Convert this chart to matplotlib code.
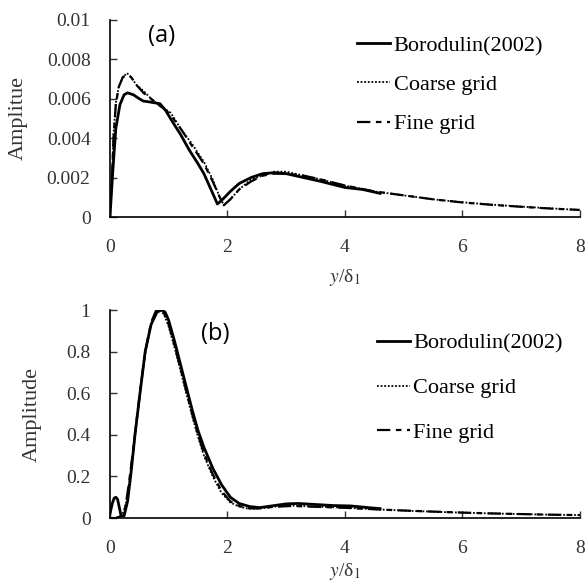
import matplotlib
matplotlib.use('Agg')
import matplotlib.pyplot as plt

plt.rcParams['font.family'] = ['Liberation Serif', 'DejaVu Serif']
plt.rcParams['mathtext.fontset'] = 'stix'

# (a) 数据
bor_a_x = [0, 0.05, 0.1, 0.17, 0.24, 0.3, 0.4, 0.5, 0.57, 0.65, 0.75, 0.85, 0.95, 1.05, 1.2,
           1.35, 1.5, 1.6, 1.72, 1.83, 1.92, 2.05, 2.2, 2.4, 2.6, 2.8, 3.0, 3.3, 3.6, 4.0, 4.3, 4.6]
bor_a_y = [0, 0.0024, 0.0045, 0.0057, 0.0062, 0.0063, 0.0062, 0.006, 0.00588, 0.00585, 0.0058, 0.00575,
           0.0054, 0.0049, 0.0042, 0.0034, 0.0027, 0.0022, 0.0014, 0.00066, 0.0009, 0.0013, 0.0017, 0.002,
           0.0022, 0.00225, 0.0022, 0.002, 0.0018, 0.0015, 0.0014, 0.0012]

coarse_a_x = [0, 0.03, 0.06, 0.1, 0.15, 0.22, 0.29, 0.36, 0.45, 0.57, 0.7, 0.82, 0.92, 1.03, 1.2, 1.4,
              1.6, 1.75, 1.87, 1.94, 2.05, 2.2, 2.4, 2.6, 2.8, 3.0, 3.3, 3.6, 4.0, 4.5, 5.0, 5.5, 6.0,
              6.5, 7.0, 7.5, 8.0]
coarse_a_y = [0.0005, 0.0016, 0.0042, 0.0058, 0.0066, 0.0071, 0.0073, 0.0071, 0.0067, 0.0064, 0.006,
              0.0057, 0.0055, 0.0053, 0.0045, 0.0037, 0.0028, 0.0019, 0.001, 0.0006, 0.0009, 0.0014,
              0.0019, 0.0021, 0.0023, 0.0023, 0.0021, 0.0019, 0.0016, 0.0013, 0.0011, 0.0009, 0.00075,
              0.00063, 0.00053, 0.00044, 0.00036]

fine_a_x = coarse_a_x
fine_a_y = [0.0005, 0.0015, 0.004, 0.0057, 0.0066, 0.0071, 0.0072, 0.0071, 0.0067, 0.0063, 0.006,
            0.0057, 0.0055, 0.0052, 0.0045, 0.0036, 0.0027, 0.0018, 0.001, 0.0006, 0.0009, 0.0014,
            0.0018, 0.0021, 0.0022, 0.0022, 0.0021, 0.0019, 0.0016, 0.0013, 0.0011, 0.0009, 0.00074,
            0.00062, 0.00052, 0.00043, 0.00036]

# (b) 数据
bor_b_x = [0, 0.04, 0.07, 0.1, 0.13, 0.16, 0.19, 0.24, 0.3, 0.36, 0.43, 0.52, 0.6, 0.7, 0.8, 0.88, 0.94,
           1.0, 1.1, 1.2, 1.3, 1.4, 1.5, 1.6, 1.75, 1.9, 2.05, 2.2, 2.38, 2.55, 2.8, 3.0, 3.2, 3.5, 3.8,
           4.1, 4.4, 4.6]
bor_b_y = [0.02, 0.07, 0.095, 0.1, 0.09, 0.05, 0.01, 0.01, 0.08, 0.22, 0.41, 0.62, 0.8, 0.93, 0.99, 1.0,
           0.99, 0.95, 0.85, 0.74, 0.63, 0.52, 0.42, 0.34, 0.24, 0.16, 0.1, 0.07, 0.055, 0.05, 0.06,
           0.068, 0.07, 0.065, 0.06, 0.058, 0.05, 0.045]

coarse_b_x = [0, 0.1, 0.2, 0.26, 0.32, 0.4, 0.5, 0.6, 0.7, 0.78, 0.85, 0.92, 1.0, 1.1, 1.2, 1.3, 1.4,
              1.5, 1.6, 1.75, 1.9, 2.05, 2.2, 2.35, 2.53, 2.8, 3.1, 3.5, 4.0, 4.5, 5.0, 5.5, 6.0, 6.5,
              7.0, 7.5, 8.0]
coarse_b_y = [0, 0, 0.01, 0.05, 0.15, 0.33, 0.57, 0.79, 0.93, 0.99, 1.0, 0.98, 0.92, 0.82, 0.71, 0.6,
              0.49, 0.39, 0.3, 0.2, 0.12, 0.075, 0.055, 0.045, 0.045, 0.055, 0.06, 0.055, 0.05, 0.042,
              0.036, 0.03, 0.026, 0.022, 0.019, 0.016, 0.014]

fine_b_x = coarse_b_x
fine_b_y = [0, 0, 0.01, 0.05, 0.16, 0.34, 0.58, 0.8, 0.94, 0.995, 1.0, 0.985, 0.93, 0.83, 0.72, 0.61,
            0.5, 0.4, 0.31, 0.21, 0.13, 0.08, 0.058, 0.047, 0.046, 0.054, 0.058, 0.054, 0.049, 0.042,
            0.036, 0.031, 0.026, 0.022, 0.019, 0.016, 0.014]

labels = ['Borodulin(2002)', 'Coarse grid', 'Fine grid']
x_ticks = [0, 2, 4, 6, 8]

fig = plt.figure(figsize=(5.88, 5.85), dpi=100)
ax_a = fig.add_axes([0.187, 0.629, 0.799, 0.337])
ax_b = fig.add_axes([0.187, 0.1145, 0.799, 0.3555])

dash_fine = (0, (6, 2.5, 2.5, 2.5))
txt_color = '#333333'


def style_axes(ax, ylim, yticks, ylabel, tag, tag_xy, leg_anchor, leg_space, xpad):
    ax.set_xlim(0, 8)
    ax.set_ylim(*ylim)
    ax.set_xticks(x_ticks)
    ax.set_yticks(yticks)
    ax.set_yticklabels([('%g' % t) for t in yticks])
    ax.spines['top'].set_visible(False)
    ax.spines['right'].set_visible(False)
    ax.spines['left'].set_linewidth(1.2)
    ax.spines['bottom'].set_linewidth(1.2)
    ax.tick_params(direction='in', length=5, width=1, labelsize=14, colors=txt_color)
    ax.tick_params(axis='y', pad=14)
    ax.tick_params(axis='x', pad=15.5)
    ax.set_ylabel(ylabel, fontsize=16, color=txt_color)
    ax.set_xlabel(r'$y$/δ$_1$', fontsize=14, color=txt_color, labelpad=xpad)
    ax.text(tag_xy[0], tag_xy[1], tag, transform=ax.transAxes, fontsize=17,
            family=['Open Sans', 'DejaVu Sans'], ha='center', va='center')
    ax.legend(labels, loc='center left', bbox_to_anchor=leg_anchor, frameon=False, fontsize=16,
              handlelength=1.5, handletextpad=0.15, labelspacing=leg_space, borderaxespad=0,
              borderpad=0)


ax_a.plot(bor_a_x, bor_a_y, color='black', lw=2)
ax_a.plot(coarse_a_x, coarse_a_y, color='black', lw=1.3, ls=(0, (1, 1)))
ax_a.plot(fine_a_x, fine_a_y, color='black', lw=1.6, ls=dash_fine)
style_axes(ax_a, (0, 0.01), [0, 0.002, 0.004, 0.006, 0.008, 0.01], 'Amplitue', '(a)',
           (0.109, 0.92), (0.5255, 0.67), 0.84, 8)
ax_a.yaxis.set_label_coords(-0.174, 0.5)

ax_b.plot(bor_b_x, bor_b_y, color='black', lw=2)
ax_b.plot(coarse_b_x, coarse_b_y, color='black', lw=1.3, ls=(0, (1, 1)))
ax_b.plot(fine_b_x, fine_b_y, color='black', lw=1.6, ls=dash_fine)
style_axes(ax_b, (0, 1.0), [0, 0.2, 0.4, 0.6, 0.8, 1.0], 'Amplitude', '(b)',
           (0.225, 0.885), (0.568, 0.625), 1.07, 3)
ax_b.yaxis.set_label_coords(-0.145, 0.5)

fig.savefig('out.png', dpi=100)
